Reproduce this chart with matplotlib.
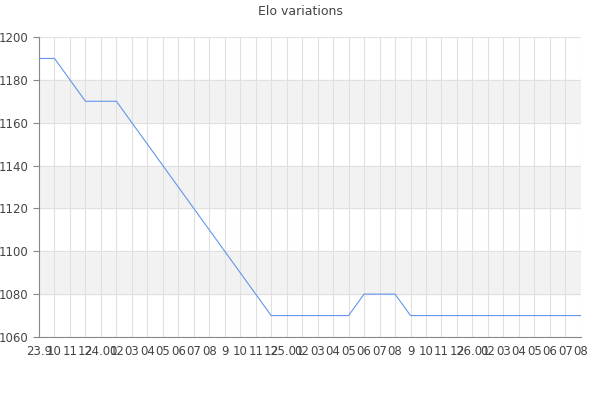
import matplotlib
matplotlib.use("Agg")
import matplotlib.pyplot as plt

labels = ["23.9", "10", "11", "12",
          "24.01", "02", "03", "04", "05", "06", "07", "08", "9", "10", "11", "12",
          "25.01", "02", "03", "04", "05", "06", "07", "08", "9", "10", "11", "12",
          "26.01", "02", "03", "04", "05", "06", "07", "08"]
elo = [1190, 1190, 1180, 1170, 1170, 1170, 1160, 1150, 1140, 1130, 1120, 1110,
       1100, 1090, 1080, 1070, 1070, 1070, 1070, 1070, 1070, 1080, 1080, 1080,
       1070, 1070, 1070, 1070, 1070, 1070, 1070, 1070, 1070, 1070, 1070, 1070]

x = list(range(len(labels)))

fig = plt.figure(figsize=(6, 4), dpi=100)
ax = fig.add_axes([0.065, 0.1575, 0.903, 0.75])

# alternating bands
for lo in (1080, 1120, 1160):
    ax.axhspan(lo, lo + 20, color="#f2f2f2", zorder=0)

ax.plot(x, elo, color="#6495ed", linewidth=0.8, zorder=3)

ax.set_xlim(0, len(labels) - 1)
ax.set_ylim(1060, 1200)
ax.set_yticks(range(1060, 1201, 20))
ax.set_xticks(x)
ax.set_xticklabels(labels)

ax.grid(True, color="#e0e0e0", linewidth=0.8, zorder=1)
ax.set_axisbelow(True)
for s in ("top", "right"):
    ax.spines[s].set_visible(False)
for s in ("left", "bottom"):
    ax.spines[s].set_color("#888888")
    ax.spines[s].set_linewidth(0.8)

ax.tick_params(axis="x", length=0, pad=6, labelsize=8.5, labelcolor="#444444")
ax.tick_params(axis="y", length=4, color="#888888", labelsize=8.5, labelcolor="#444444")

fig.suptitle("Elo variations", y=0.988, fontsize=9, color="#444444")

fig.savefig("out.png", dpi=100)
